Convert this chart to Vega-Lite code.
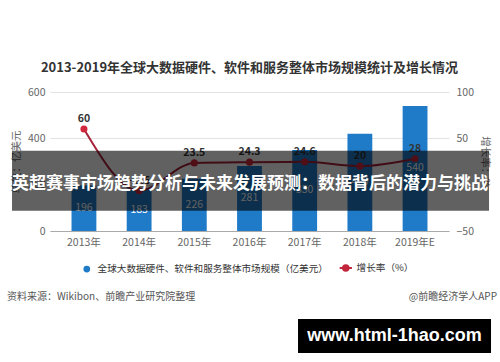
{
  "$schema": "https://vega.github.io/schema/vega-lite/v6.json",
  "width": 399,
  "height": 139,
  "autosize": {"type": "none"},
  "padding": {"left": 50, "top": 92, "right": 51, "bottom": 131},
  "background": "white",
  "config": {
    "font": "Noto Sans CJK SC",
    "view": {"stroke": null},
    "axis": {"labelFont": "Noto Sans CJK SC", "titleFont": "Noto Sans CJK SC"}
  },
  "title": {
    "text": "2013-2019年全球大数据硬件、软件和服务整体市场规模统计及增长情况",
    "fontSize": 13,
    "fontWeight": "bold",
    "color": "#333333",
    "anchor": "middle",
    "offset": 12
  },
  "data": {
    "values": [
      {"year": "2013年", "size": 196, "growth": 60},
      {"year": "2014年", "size": 183, "growth": -6.6},
      {"year": "2015年", "size": 226, "growth": 23.5},
      {"year": "2016年", "size": 281, "growth": 24.3},
      {"year": "2017年", "size": 350, "growth": 24.6},
      {"year": "2018年", "size": 420, "growth": 20},
      {"year": "2019年E", "size": 540, "growth": 28}
    ]
  },
  "layer": [
    {
      "layer": [
        {
          "layer": [
            {
              "mark": {"type": "bar", "color": "#1f7bc8"},
              "encoding": {
                "x": {
                  "field": "year", "type": "nominal", "sort": null,
                  "scale": {"paddingInner": 0.55, "paddingOuter": 0.39},
                  "axis": {
                    "title": null, "labelAngle": 0, "ticks": false,
                    "domainColor": "#aaaaaa", "labelColor": "#666666",
                    "labelFontSize": 10.5, "labelPadding": 6
                  }
                },
                "y": {
                  "field": "size", "type": "quantitative",
                  "title": "单位：亿美元",
                  "scale": {"domain": [0, 600], "nice": false},
                  "axis": {
                    "orient": "left", "values": [0, 200, 400, 600],
                    "grid": true, "gridColor": "#e3e3e3", "domain": false, "ticks": false,
                    "labelColor": "#666666", "labelFontSize": 10.5, "labelPadding": 5,
                    "titleColor": "#666666", "titleFontSize": 10.5, "titleFontWeight": "normal",
                    "titlePadding": 6
                  }
                },
                "color": {
                  "datum": "全球大数据硬件、软件和服务整体市场规模（亿美元）",
                  "type": "nominal",
                  "scale": {
                    "domain": ["全球大数据硬件、软件和服务整体市场规模（亿美元）", "增长率（%）"],
                    "range": ["#1f7bc8", "#d2283d"]
                  },
                  "legend": {
                    "title": null,
                    "orient": "none",
                    "direction": "horizontal",
                    "legendX": 32,
                    "legendY": 171,
                    "symbolSize": 45,
                    "labelFontSize": 9.6,
                    "labelColor": "#333333",
                    "labelLimit": 400,
                    "labelOffset": 6,
                    "columnPadding": 7,
                    "encode": {
                      "symbols": {
                        "update": {
                          "shape": {"signal": "datum.value === '增长率（%）' ? 'M-1,0L1,0M0.45,0A0.45,0.45,0,1,1,-0.45,0A0.45,0.45,0,1,1,0.45,0Z' : 'circle'"},
                          "size": {"signal": "datum.value === '增长率（%）' ? 150 : 45"},
                          "stroke": {"signal": "datum.value === '增长率（%）' ? '#c0253a' : '#1f7bc8'"},
                          "strokeWidth": {"signal": "datum.value === '增长率（%）' ? 2 : 0"}
                        }
                      }
                    }
                  }
                }
              }
            },
            {
              "transform": [{"calculate": "datum.size / 2", "as": "mid"}],
              "mark": {"type": "text", "fontSize": 10.5, "color": "#ffffff", "baseline": "middle"},
              "encoding": {
                "x": {"field": "year", "type": "nominal", "sort": null},
                "y": {"field": "mid", "type": "quantitative", "title": "单位：亿美元"},
                "text": {"field": "size", "type": "quantitative"}
              }
            }
          ]
        },
        {
          "layer": [
            {
              "mark": {"type": "line", "interpolate": "monotone", "color": "#a8233a", "strokeWidth": 2},
              "encoding": {
                "x": {"field": "year", "type": "nominal", "sort": null},
                "y": {
                  "field": "growth", "type": "quantitative",
                  "title": "增长率：%",
                  "scale": {"domain": [-50, 100], "nice": false},
                  "axis": {
                    "orient": "right", "values": [-50, 0, 50, 100],
                    "grid": false, "domain": false, "ticks": false,
                    "labelColor": "#666666", "labelFontSize": 10.5, "labelPadding": 7,
                    "titleColor": "#666666", "titleFontSize": 10.5, "titleFontWeight": "normal",
                    "titlePadding": 6
                  }
                }
              }
            },
            {
              "mark": {"type": "point", "filled": true, "size": 50, "opacity": 1},
              "encoding": {
                "x": {"field": "year", "type": "nominal", "sort": null},
                "y": {"field": "growth", "type": "quantitative", "title": "增长率：%"},
                "color": {"datum": "增长率（%）", "type": "nominal"}
              }
            },
            {
              "mark": {"type": "text", "fontSize": 10.5, "fontWeight": "bold", "color": "#333333", "dy": -10, "baseline": "middle"},
              "encoding": {
                "x": {"field": "year", "type": "nominal", "sort": null},
                "y": {"field": "growth", "type": "quantitative", "title": "增长率：%"},
                "text": {"field": "growth", "type": "quantitative"}
              }
            }
          ]
        }
      ],
      "resolve": {"scale": {"y": "independent"}}
    },
    {
      "data": {"values": [{"banner": "英超赛事市场趋势分析与未来发展预测：数据背后的潜力与挑战"}]},
      "mark": {"type": "rect", "color": "#000000", "opacity": 0.62},
      "encoding": {
        "x": {"datum": -0.0952, "type": "quantitative", "scale": {"domain": [0, 1], "nice": false, "zero": false}, "axis": null},
        "x2": {"datum": 1.1003},
        "y": {"datum": 0.5777, "type": "quantitative", "scale": {"domain": [0, 1], "nice": false, "zero": false}, "axis": null},
        "y2": {"datum": 0.146}
      }
    },
    {
      "data": {"values": [{"banner": "英超赛事市场趋势分析与未来发展预测：数据背后的潜力与挑战"}]},
      "mark": {"type": "text", "fontSize": 17, "fontWeight": "bold", "color": "#ffffff", "align": "center", "baseline": "middle"},
      "encoding": {
        "x": {"datum": 0.5013, "type": "quantitative", "scale": {"domain": [0, 1], "nice": false, "zero": false}, "axis": null},
        "y": {"datum": 0.3417, "type": "quantitative", "scale": {"domain": [0, 1], "nice": false, "zero": false}, "axis": null},
        "text": {"field": "banner", "type": "nominal"}
      }
    },
    {
      "data": {"values": [{"site": "www.html-1hao.com"}]},
      "mark": {"type": "rect", "color": "#000000"},
      "encoding": {
        "x": {"datum": 0.6216, "type": "quantitative", "scale": {"domain": [0, 1], "nice": false, "zero": false}, "axis": null},
        "x2": {"datum": 1.1053},
        "y": {"datum": -0.6331, "type": "quantitative", "scale": {"domain": [0, 1], "nice": false, "zero": false}, "axis": null},
        "y2": {"datum": -0.8777}
      }
    },
    {
      "data": {"values": [{"site": "www.html-1hao.com"}]},
      "mark": {"type": "text", "font": "Liberation Sans", "fontSize": 18, "fontWeight": "bold", "color": "#ffffff", "align": "center", "baseline": "middle"},
      "encoding": {
        "x": {"datum": 0.8634, "type": "quantitative", "scale": {"domain": [0, 1], "nice": false, "zero": false}, "axis": null},
        "y": {"datum": -0.7554, "type": "quantitative", "scale": {"domain": [0, 1], "nice": false, "zero": false}, "axis": null},
        "text": {"field": "site", "type": "nominal"}
      }
    },
    {
      "data": {"values": [{"note": "资料来源：Wikibon、前瞻产业研究院整理"}]},
      "mark": {"type": "text", "fontSize": 10, "color": "#555555", "align": "left", "baseline": "middle"},
      "encoding": {
        "x": {"datum": -0.1078, "type": "quantitative", "scale": {"domain": [0, 1], "nice": false, "zero": false}, "axis": null},
        "y": {"datum": -0.4784, "type": "quantitative", "scale": {"domain": [0, 1], "nice": false, "zero": false}, "axis": null},
        "text": {"field": "note", "type": "nominal"}
      }
    },
    {
      "data": {"values": [{"note": "@前瞻经济学人APP"}]},
      "mark": {"type": "text", "fontSize": 10, "color": "#555555", "align": "right", "baseline": "middle"},
      "encoding": {
        "x": {"datum": 1.1203, "type": "quantitative", "scale": {"domain": [0, 1], "nice": false, "zero": false}, "axis": null},
        "y": {"datum": -0.4784, "type": "quantitative", "scale": {"domain": [0, 1], "nice": false, "zero": false}, "axis": null},
        "text": {"field": "note", "type": "nominal"}
      }
    }
  ],
  "resolve": {"scale": {"x": "independent", "y": "independent"}}
}
